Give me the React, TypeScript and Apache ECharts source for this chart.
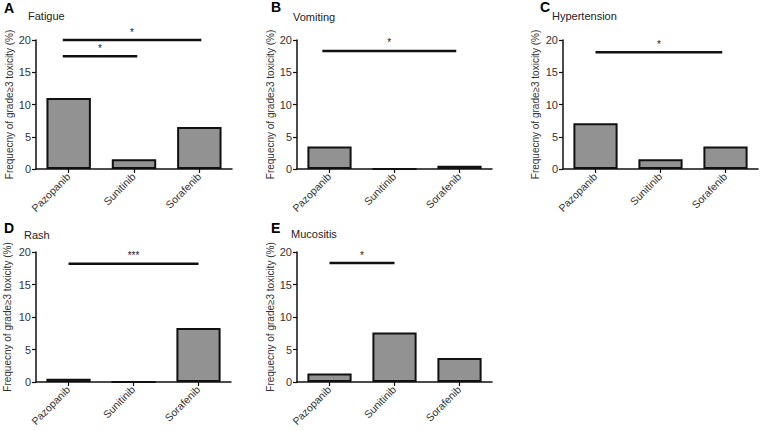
import React, { useEffect, useRef } from "react";
import * as echarts from "echarts";

const categories = ["Pazopanib", "Sunitinib", "Sorafenib"];
const panelLetters = ["A", "B", "C", "D", "E"];
const panelTitles = ["Fatigue", "Vomiting", "Hypertension", "Rash", "Mucositis"];
const yAxisTitle = "Frequecny of grade≥3 toxicity (%)";

const fatigue = [11.0, 1.5, 6.5];
const vomiting = [3.5, 0, 0.5];
const hypertension = [7.1, 1.5, 3.5];
const rash = [0.5, 0, 8.3];
const mucositis = [1.3, 7.6, 3.7];
const panelValues = [fatigue, vomiting, hypertension, rash, mucositis];

// significance brackets: [from (category index), to (category index), value, mark]
const fatigueSig: [number, number, number, string][] = [
  [-0.09, 2.03, 20, "*"],
  [-0.09, 1.05, 17.5, "*"],
];
const vomitingSig: [number, number, number, string][] = [[-0.11, 1.95, 18.3, "*"]];
const hypertensionSig: [number, number, number, string][] = [[0.0, 1.95, 18.1, "*"]];
const rashSig: [number, number, number, string][] = [[0.0, 2.0, 18.2, "***"]];
const mucositisSig: [number, number, number, string][] = [[0.0, 1.0, 18.3, "*"]];
const panelSig = [fatigueSig, vomitingSig, hypertensionSig, rashSig, mucositisSig];

const yMin = 0;
const yMax = 20;
const yInterval = 5;

const grids = [
  { left: 36, top: 40, width: 196, height: 129 },
  { left: 297, top: 40, width: 195, height: 129 },
  { left: 563, top: 40, width: 195, height: 129 },
  { left: 36, top: 252, width: 195, height: 130 },
  { left: 297, top: 252, width: 195, height: 130 },
];
const nameGaps = [22, 17, 23, 24, 19];
const letterPos = [
  [4, 8],
  [271, 7],
  [540, 7],
  [4, 228],
  [271, 228],
];
const titlePos = [
  [28, 16],
  [293, 17],
  [552, 16],
  [24, 235],
  [291, 234],
];

const FONT = "Liberation Sans, Arial, sans-serif";

export default function App() {
  const ref = useRef<HTMLDivElement>(null);
  useEffect(() => {
    if (!ref.current) return;
    const chart = echarts.init(ref.current, undefined, { renderer: "svg" });
    const xAxes: any[] = [];
    const yAxes: any[] = [];
    const series: any[] = [];
    grids.forEach((g, i) => {
      xAxes.push({
        type: "category",
        gridIndex: i,
        data: categories,
        axisLine: { show: true, onZero: false, lineStyle: { color: "#111", width: 1.5 } },
        axisTick: { show: true, alignWithLabel: true, length: 4, lineStyle: { color: "#111", width: 1.2 } },
        axisLabel: {
          show: true,
          rotate: 45,
          fontSize: 10.5,
          color: "#333",
          fontFamily: FONT,
          margin: 6,
          interval: 0,
        },
        splitLine: { show: false },
      });
      yAxes.push({
        type: "value",
        gridIndex: i,
        min: yMin,
        max: yMax,
        interval: yInterval,
        name: yAxisTitle,
        nameLocation: "middle",
        nameGap: nameGaps[i],
        nameTextStyle: { fontSize: 10, color: "#333", fontFamily: FONT },
        axisLine: { show: true, onZero: false, lineStyle: { color: "#111", width: 1.5 } },
        axisTick: { show: true, length: 4, lineStyle: { color: "#111", width: 1.2 } },
        axisLabel: { fontSize: 11, color: "#333", fontFamily: FONT, margin: 5 },
        splitLine: { show: false },
      });
      series.push({
        type: "bar",
        xAxisIndex: i,
        yAxisIndex: i,
        data: panelValues[i],
        barWidth: "68%",
        itemStyle: { color: "#929292", borderColor: "#111", borderWidth: 2 },
      });
      series.push({
        type: "custom",
        xAxisIndex: i,
        yAxisIndex: i,
        clip: false,
        silent: true,
        data: panelSig[i].map((s) => [s[0], s[1], s[2]]),
        renderItem: (params: any, api: any) => {
          const from = api.value(0);
          const to = api.value(1);
          const v = api.value(2);
          const mark = panelSig[i][params.dataIndex][3];
          const base = api.coord([0, v]);
          const bw = api.size([1, 0])[0];
          const x0 = base[0] + from * bw;
          const x1 = base[0] + to * bw;
          return {
            type: "group",
            children: [
              {
                type: "line",
                shape: { x1: x0, y1: base[1], x2: x1, y2: base[1] },
                style: { stroke: "#111", lineWidth: 2.5 },
              },
              {
                type: "text",
                x: (x0 + x1) / 2,
                y: base[1] - 3,
                style: {
                  text: mark,
                  fill: "#222",
                  font: `10px ${FONT}`,
                  align: "center",
                  verticalAlign: "bottom",
                },
              },
            ],
          };
        },
      });
    });
    const graphic: any[] = [];
    panelLetters.forEach((l, i) => {
      graphic.push({
        type: "text",
        left: letterPos[i][0],
        top: letterPos[i][1] - 7,
        style: { text: l, fill: "#000", font: `bold 14px ${FONT}` },
      });
      graphic.push({
        type: "text",
        left: titlePos[i][0],
        top: titlePos[i][1] - 6,
        style: { text: panelTitles[i], fill: "#222", font: `11px ${FONT}` },
      });
    });
    chart.setOption({
      animation: false,
      backgroundColor: "#fff",
      grid: grids.map((g) => ({ ...g })),
      xAxis: xAxes,
      yAxis: yAxes,
      series,
      graphic,
    });
    return () => chart.dispose();
  }, []);
  return (
    <div
      ref={ref}
      style={{ position: "fixed", left: 0, top: 0, width: 763, height: 431 }}
    />
  );
}
